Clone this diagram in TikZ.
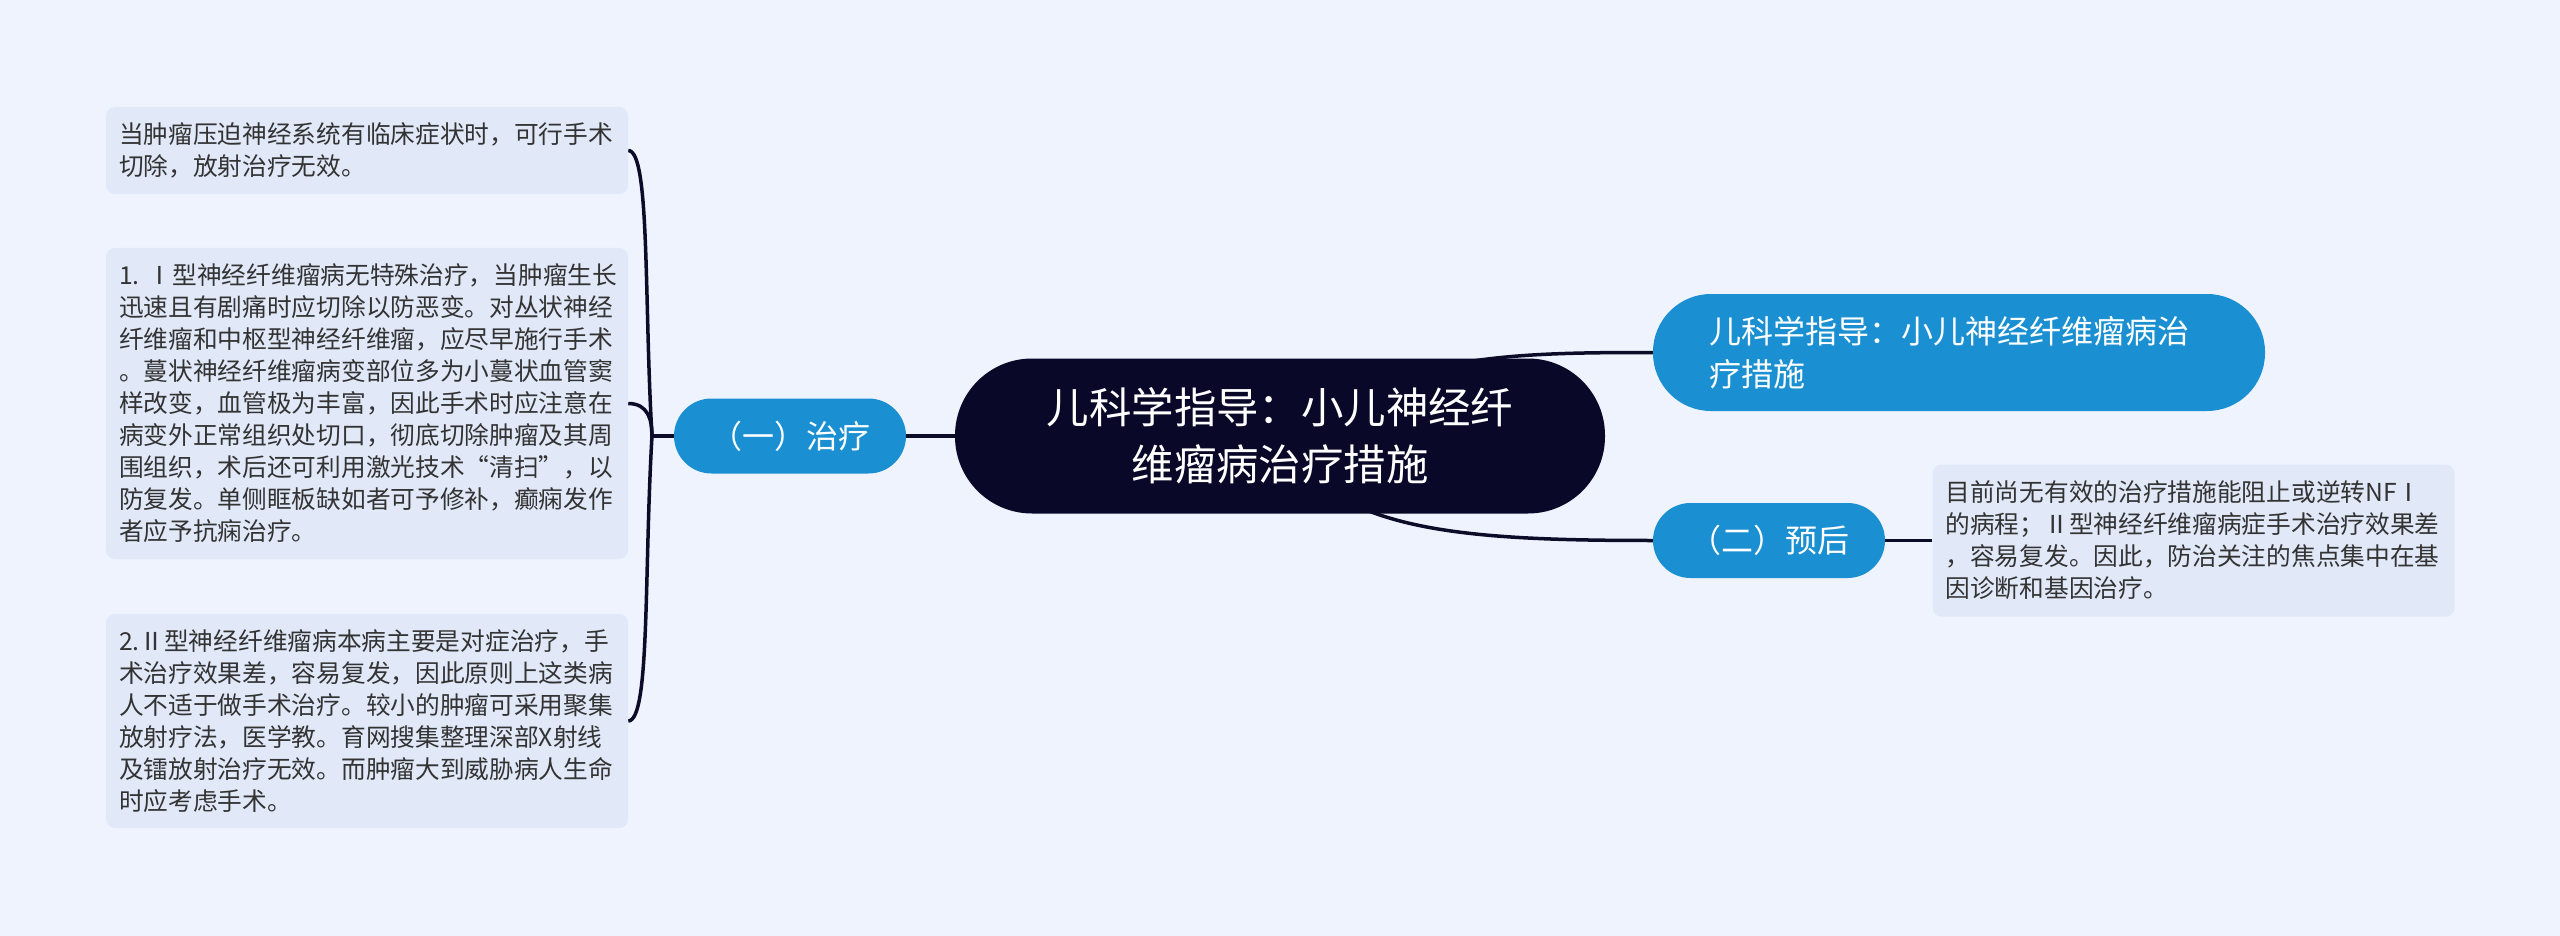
\documentclass[tikz,border=0pt]{standalone}
\usepackage{fontspec}
\setmainfont{Noto Sans CJK SC}
\usetikzlibrary{positioning,backgrounds}

\definecolor{pagebg}{HTML}{EEF3FD}
\definecolor{notefill}{HTML}{E1E9F9}
\definecolor{notetext}{HTML}{333333}
\definecolor{topicblue}{HTML}{1A8FD2}
\definecolor{mainnavy}{HTML}{0A0828}
\definecolor{linknavy}{HTML}{0C0C28}

\begin{document}
\begin{tikzpicture}[x=1pt,y=-1pt,on grid,
				main/.style={rectangle, rounded corners=77pt, fill=mainnavy, text=white, minimum width=650pt, minimum height=155pt, text width=470pt, align=center, inner sep=0pt, font=\fontsize{42.4}{57}\selectfont},
				topic/.style={rectangle, rounded corners=37.5pt, fill=topicblue, text=white, minimum width=232pt, minimum height=75pt, inner sep=0pt, font=\fontsize{32}{43}\selectfont},
				note/.style={rectangle, rounded corners=9pt, fill=notefill, text=notetext, text width=496pt, inner xsep=13pt, inner ysep=0pt, align=left, font=\fontsize{24.7}{32}\selectfont},
				link/.style={draw=linknavy, line width=3.5pt}
			]
			
			\useasboundingbox (0,0) rectangle (2560,936);
			\begin{scope}[on background layer]
				\fill[pagebg] (0,0) rectangle (2560,936);
			\end{scope}
			
			\node[main] (m_0) at (1280,436) {儿科学指导：小儿神经纤\\维瘤病治疗措施};
			
			\node[topic] (t_0) [left=490pt of m_0] {（一）治疗};
			\node[topic, minimum width=612pt, minimum height=117pt, rounded corners=58pt, text width=500pt, align=left] (t_1) [above right=83.5pt and 679pt of m_0] {儿科学指导：小儿神经纤维瘤病治\\疗措施};
			\node[topic] (t_2) [below right=104.5pt and 489pt of m_0] {（二）预后};
			
			\node[note, minimum height=311pt] (n_2) [above left=32.5pt and 423pt of t_0] {1.~Ⅰ型神经纤维瘤病无特殊治疗，当肿瘤生长\\迅速且有剧痛时应切除以防恶变。对丛状神经\\纤维瘤和中枢型神经纤维瘤，应尽早施行手术\\。蔓状神经纤维瘤病变部位多为小蔓状血管窦\\样改变，血管极为丰富，因此手术时应注意在\\病变外正常组织处切口，彻底切除肿瘤及其周\\围组织，术后还可利用激光技术“清扫”，以\\防复发。单侧眶板缺如者可予修补，癫痫发作\\者应予抗痫治疗。};
			\node[note, minimum height=87pt] (n_1) [above=253pt of n_2] {当肿瘤压迫神经系统有临床症状时，可行手术\\切除，放射治疗无效。};
			\node[note, minimum height=214pt] (n_3) [below=317.5pt of n_2] {2.Ⅱ型神经纤维瘤病本病主要是对症治疗，手\\术治疗效果差，容易复发，因此原则上这类病\\人不适于做手术治疗。较小的肿瘤可采用聚集\\放射疗法，医学教。育网搜集整理深部X射线\\及镭放射治疗无效。而肿瘤大到威胁病人生命\\时应考虑手术。};
			\node[note, minimum height=152pt] (n_4) [right=424.5pt of t_2] {目前尚无有效的治疗措施能阻止或逆转NFⅠ\\的病程；Ⅱ型神经纤维瘤病症手术治疗效果差\\，容易复发。因此，防治关注的焦点集中在基\\因诊断和基因治疗。};
			
			\coordinate[left=138pt of t_0] (j_0);
			
			\begin{scope}[on background layer]
				\draw[link] (n_1.east) .. controls +(22,0) and +(-8,-136) .. (j_0);
				\draw[link] (n_2.east) .. controls +(20,0) and +(0,-16) .. (j_0);
				\draw[link] (n_3.east) .. controls +(22,0) and +(-8,136) .. (j_0);
				\draw[link] (j_0) -- (t_0.west);
				\draw[link] (t_0.east) -- (m_0.west);
				\draw[link] (m_0.center) .. controls +(120,-81) and +(-150,0) .. (t_1.west);
				\draw[link] (m_0.center) .. controls +(50,94) and +(-200,0) .. (t_2.west);
				\draw[link] (t_2.east) -- (n_4.west);
			\end{scope}
		\end{tikzpicture}
\end{document}
